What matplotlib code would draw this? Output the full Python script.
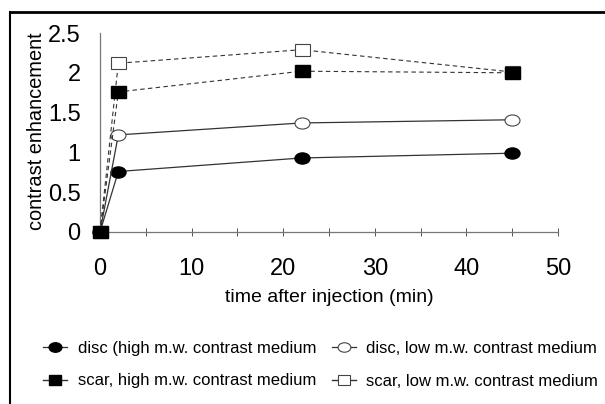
import matplotlib
matplotlib.use("Agg")
import matplotlib.pyplot as plt
from matplotlib.lines import Line2D
from matplotlib.markers import MarkerStyle
from matplotlib.transforms import Affine2D

plt.rcParams['font.family'] = ['Liberation Sans', 'DejaVu Sans']

time_min = [0, 2, 22, 45]
disc_high = [0, 0.76, 0.93, 0.99]
disc_low = [0, 1.22, 1.37, 1.41]
scar_high = [0, 1.76, 2.02, 2.00]
scar_low = [0, 2.12, 2.29, 2.01]
labels = ["disc (high m.w. contrast medium", "disc, low m.w. contrast medium",
          "scar, high m.w. contrast medium", "scar, low m.w. contrast medium"]
xticks = [0, 10, 20, 30, 40, 50]
yticks = [0, 0.5, 1, 1.5, 2, 2.5]
ytick_labels = ["0", "0.5", "1", "1.5", "2", "2.5"]

W, H = 605, 404
fig = plt.figure(figsize=(W / 100, H / 100), dpi=100)
ax = fig.add_axes([100 / W, 1 - 232 / H, 458 / W, 199 / H])

circ = MarkerStyle('o', transform=Affine2D().scale(1.35, 1.0))
sq = MarkerStyle('s', transform=Affine2D().scale(1.35, 1.0))

lc = '#333333'
h1, = ax.plot(time_min, disc_high, '-', color=lc, lw=0.9, marker=circ, ms=8,
              mfc='black', mec='black', clip_on=False, zorder=3)
h2, = ax.plot(time_min, disc_low, '-', color=lc, lw=0.9, marker=circ, ms=8,
              mfc='white', mec='#444444', mew=0.8, clip_on=False, zorder=3)
h4, = ax.plot(time_min, scar_low, '--', color=lc, lw=0.8, dashes=(4, 3), marker=sq, ms=8,
              mfc='white', mec='#444444', mew=0.8, clip_on=False, zorder=3)
h3, = ax.plot(time_min, scar_high, '--', color=lc, lw=0.8, dashes=(4, 3), marker=sq, ms=8,
              mfc='black', mec='black', clip_on=False, zorder=4)

# legend proxies for dashed series (short line stub on both sides of marker)
p3 = Line2D([], [], color=lc, lw=1.0, ls='-', marker=sq, ms=8,
            mfc='black', mec='black')
p4 = Line2D([], [], color=lc, lw=1.0, ls='-', marker=sq, ms=8,
            mfc='white', mec='#444444', mew=0.8)

ax.set_xlim(0, 50)
ax.set_ylim(0, 2.5)
ax.set_xticks(xticks)
ax.set_xticks([5, 15, 25, 35, 45], minor=True)
ax.set_yticks(yticks)
ax.set_yticklabels(ytick_labels)
ax.tick_params(axis='x', which='both', direction='inout', length=6, width=0.7,
               colors='#555555', labelcolor='black', labelsize=17, pad=16)
ax.tick_params(axis='y', length=0, labelsize=17, pad=14)
for s in ['top', 'right']:
    ax.spines[s].set_visible(False)
for s in ['left', 'bottom']:
    ax.spines[s].set_color('#777777')
    ax.spines[s].set_linewidth(0.9)

ax.set_ylabel("contrast enhancement", fontsize=14.4)
ax.yaxis.set_label_coords(-0.118, 0.508)
ax.set_xlabel("time after injection (min)", fontsize=14)
ax.xaxis.set_label_coords(0.5, -0.285)

leg = fig.legend([h1, p3, h2, p4], [labels[0], labels[2], labels[1], labels[3]],
                 ncol=2, frameon=False, borderpad=0, borderaxespad=0,
                 loc='upper left', bbox_to_anchor=(43 / W, 1 - 341 / H),
                 fontsize=12, handlelength=1.44, handletextpad=0.66,
                 columnspacing=0.9, labelspacing=1.05, markerscale=0.85)

fig.add_artist(Line2D([10 / W, 1], [1 - 12 / H, 1 - 12 / H], color='black', lw=2,
                      transform=fig.transFigure))
fig.add_artist(Line2D([10 / W, 10 / W], [0, 1 - 12 / H], color='black', lw=1.5,
                      transform=fig.transFigure))

fig.savefig("out.png", dpi=100)
